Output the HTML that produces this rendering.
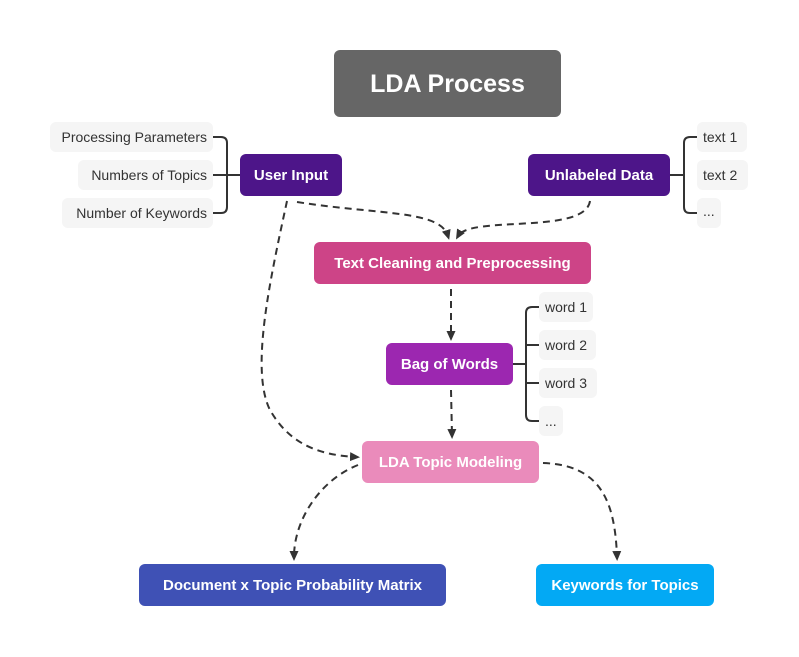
<!DOCTYPE html>
<html><head><meta charset="utf-8"><style>
html,body{margin:0;padding:0;background:#fff}
svg{display:block}
text{font-family:"Liberation Sans",sans-serif}
.n{fill:#fff;font-weight:bold;font-size:15px}
.s{fill:#333;font-size:14px}
.c{fill:none;stroke:#333;stroke-width:2}
.d{fill:none;stroke:#333;stroke-width:2;stroke-dasharray:7 5}
</style></head><body>
<svg width="799" height="657" viewBox="0 0 799 657" xmlns="http://www.w3.org/2000/svg">
<defs><marker id="a" markerWidth="12" markerHeight="12" refX="6" refY="6" orient="auto" markerUnits="userSpaceOnUse"><path d="M0,1.5 L10,6 L0,10.5 Z" fill="#333"/></marker></defs>
<rect x="334" y="50" width="227" height="67" rx="6" fill="#666"/>
<text x="447.5" y="92" text-anchor="middle" fill="#fff" font-size="25" font-weight="bold">LDA Process</text>

<path class="c" d="M213,137 H221 Q227,137 227,143 V207 Q227,213 221,213 H213 M213,175 H240"/>
<path class="c" d="M670,175 H684 M697,137 H690 Q684,137 684,143 V207 Q684,213 690,213 H697"/>
<path class="c" d="M513,364 H526 M539,307 H532 Q526,307 526,313 V415 Q526,421 532,421 H539 M526,345 H539 M526,383 H539"/>

<g fill="#f5f5f5">
<rect x="50" y="122" width="163" height="30" rx="6"/>
<rect x="78" y="160" width="135" height="30" rx="6"/>
<rect x="62" y="198" width="151" height="30" rx="6"/>
<rect x="697" y="122" width="50" height="30" rx="6"/>
<rect x="697" y="160" width="51" height="30" rx="6"/>
<rect x="697" y="198" width="24" height="30" rx="6"/>
<rect x="539" y="292" width="54" height="30" rx="6"/>
<rect x="539" y="330" width="57" height="30" rx="6"/>
<rect x="539" y="368" width="58" height="30" rx="6"/>
<rect x="539" y="406" width="24" height="30" rx="6"/>
</g>
<text class="s" x="207" y="142" text-anchor="end">Processing Parameters</text>
<text class="s" x="207" y="180" text-anchor="end">Numbers of Topics</text>
<text class="s" x="207" y="218" text-anchor="end">Number of Keywords</text>
<text class="s" x="703" y="142">text 1</text>
<text class="s" x="703" y="180">text 2</text>
<text class="s" x="703" y="216">...</text>
<text class="s" x="545" y="312">word 1</text>
<text class="s" x="545" y="350">word 2</text>
<text class="s" x="545" y="388">word 3</text>
<text class="s" x="545" y="426">...</text>

<path class="d" marker-end="url(#a)" d="M297,202 C380,215 440,210 448,236"/>
<path class="d" marker-end="url(#a)" d="M590,201 C585,235 470,215 458,236"/>
<path class="d" marker-end="url(#a)" d="M451,289 V337"/>
<path class="d" marker-end="url(#a)" d="M451,390 L452,435"/>
<path class="d" marker-end="url(#a)" d="M287,201 C270,280 250,370 270,410 C290,445 320,455 356,457"/>
<path class="d" marker-end="url(#a)" d="M358,465 C320,480 294,520 294,557"/>
<path class="d" marker-end="url(#a)" d="M543,463 C600,465 615,500 617,557"/>

<rect x="240" y="154" width="102" height="42" rx="6" fill="#4d1589"/>
<text class="n" x="291" y="180" text-anchor="middle">User Input</text>
<rect x="528" y="154" width="142" height="42" rx="6" fill="#4d1589"/>
<text class="n" x="599" y="180" text-anchor="middle">Unlabeled Data</text>
<rect x="314" y="242" width="277" height="42" rx="6" fill="#cd4487"/>
<text class="n" x="452.5" y="268" text-anchor="middle">Text Cleaning and Preprocessing</text>
<rect x="386" y="343" width="127" height="42" rx="6" fill="#9c27b0"/>
<text class="n" x="449.5" y="369" text-anchor="middle">Bag of Words</text>
<rect x="362" y="441" width="177" height="42" rx="6" fill="#ea8bbb"/>
<text class="n" x="450.5" y="467" text-anchor="middle">LDA Topic Modeling</text>
<rect x="139" y="564" width="307" height="42" rx="6" fill="#3f51b5"/>
<text class="n" x="292.5" y="590" text-anchor="middle">Document x Topic Probability Matrix</text>
<rect x="536" y="564" width="178" height="42" rx="6" fill="#03a9f4"/>
<text class="n" x="625" y="590" text-anchor="middle">Keywords for Topics</text>
</svg>
</body></html>
